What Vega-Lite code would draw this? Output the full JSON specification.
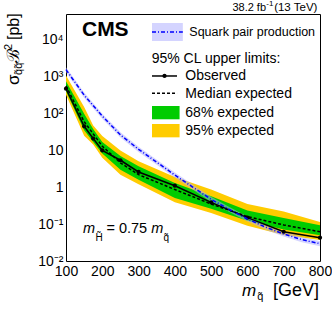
{
 "$schema": "https://vega.github.io/schema/vega-lite/v6.json",
 "width": 254, "height": 247,
 "autosize": {"type": "none"},
 "padding": {"left": 66, "top": 14, "right": 12, "bottom": 52},
 "background": "white",
 "config": {
   "view": {"stroke": "#000", "strokeWidth": 1},
   "font": "Liberation Sans",
   "axis": {"domain": false, "grid": false, "labelFont": "Liberation Sans", "labelFontSize": 14, "labelColor": "#000", "tickColor": "#000", "tickWidth": 1, "tickSize": 0, "labelOverlap": false, "labelFlush": false, "labelBound": false},
   "text": {"font": "Liberation Sans", "color": "#000"}
 },
 "datasets": {
   "limits": [
    {"mass":100,"obs":470,"exp":560,"g_lo":400,"g_hi":750,"y_lo":325,"y_hi":1080},
    {"mass":150,"obs":45,"exp":60,"g_lo":35,"g_hi":98,"y_lo":25,"y_hi":150},
    {"mass":175,"obs":21,"exp":28,"g_lo":17,"g_hi":38,"y_lo":14.5,"y_hi":47},
    {"mass":200,"obs":10,"exp":13,"g_lo":8.2,"g_hi":17,"y_lo":6.3,"y_hi":24.5},
    {"mass":250,"obs":5.4,"exp":4.6,"g_lo":3.0,"g_hi":7.0,"y_lo":2.2,"y_hi":10},
    {"mass":300,"obs":2.6,"exp":2.2,"g_lo":1.6,"g_hi":3.7,"y_lo":1.2,"y_hi":5.1},
    {"mass":400,"obs":1.1,"exp":0.87,"g_lo":0.51,"g_hi":1.3,"y_lo":0.39,"y_hi":1.9},
    {"mass":500,"obs":0.39,"exp":0.35,"g_lo":0.26,"g_hi":0.57,"y_lo":0.2,"y_hi":0.87},
    {"mass":600,"obs":0.15,"exp":0.16,"g_lo":0.124,"g_hi":0.235,"y_lo":0.09,"y_hi":0.35},
    {"mass":700,"obs":0.062,"exp":0.095,"g_lo":0.072,"g_hi":0.147,"y_lo":0.051,"y_hi":0.22},
    {"mass":800,"obs":0.043,"exp":0.062,"g_lo":0.05,"g_hi":0.093,"y_lo":0.037,"y_hi":0.115}
   ],
   "theory": [
    {"mass":100,"xs":1549,"lo":1317,"hi":1812},
    {"mass":150,"xs":316,"lo":269,"hi":370},
    {"mass":200,"xs":85,"lo":72,"hi":99},
    {"mass":250,"xs":26.3,"lo":22.4,"hi":30.8},
    {"mass":300,"xs":10.7,"lo":9.1,"hi":12.5},
    {"mass":350,"xs":4.8,"lo":4.1,"hi":5.6},
    {"mass":400,"xs":2.14,"lo":1.82,"hi":2.5},
    {"mass":450,"xs":1.0,"lo":0.85,"hi":1.17},
    {"mass":500,"xs":0.47,"lo":0.4,"hi":0.55},
    {"mass":550,"xs":0.25,"lo":0.213,"hi":0.293},
    {"mass":600,"xs":0.138,"lo":0.117,"hi":0.161},
    {"mass":650,"xs":0.083,"lo":0.0706,"hi":0.0971},
    {"mass":700,"xs":0.054,"lo":0.0459,"hi":0.0632},
    {"mass":750,"xs":0.038,"lo":0.0323,"hi":0.0445},
    {"mass":800,"xs":0.0295,"lo":0.0251,"hi":0.0345}
   ]
 },
 "layer": [
  {"data": {"name": "limits"}, "mark": {"type": "area", "color": "#ffcc00"},
   "encoding": {
     "x": {"field": "mass", "type": "quantitative", "scale": {"domain": [100, 800], "nice": false, "zero": false},
           "axis": {"title": null, "tickCount": 200, "values": [100,150,200,250,300,350,400,450,500,550,600,650,700,750,800], "labelExpr": "datum.value % 100 == 0 ? format(datum.value, 'd') : ''", "labelPadding": 3, "labelOverlap": false,
                    "encode": {"ticks": {"y2": {"value": {"expr": "datum.value % 100 == 0 ? -7 : -3.5"}}}}}},
     "y": {"field": "y_lo", "type": "quantitative", "scale": {"type": "log", "domain": [0.01, 50000], "nice": false},
           "axis": {"title": null, "tickCount": 200, "values": [0.01,0.02,0.03,0.04,0.05,0.06,0.07,0.08,0.09,0.1,0.2,0.3,0.4,0.5,0.6,0.7,0.8,0.9,1,2,3,4,5,6,7,8,9,10,20,30,40,50,60,70,80,90,100,200,300,400,500,600,700,800,900,1000,2000,3000,4000,5000,6000,7000,8000,9000,10000,20000,30000,40000,50000],
                    "labelExpr": "datum.value == 10000 ? '10⁴' : datum.value == 1000 ? '10³' : datum.value == 100 ? '10²' : datum.value == 10 ? '10' : datum.value == 1 ? '1' : datum.value == 0.1 ? '10⁻¹' : datum.value == 0.01 ? '10⁻²' : ''",
                    "labelPadding": 3, "labelOverlap": false,
                    "encode": {"ticks": {"x2": {"value": {"expr": "abs(log(datum.value)/LN10 - round(log(datum.value)/LN10)) < 0.001 ? 7 : 3.5"}}}}}},
     "y2": {"field": "y_hi"}
   }},
  {"data": {"name": "limits"}, "mark": {"type": "area", "color": "#00cc00"},
   "encoding": {"x": {"field": "mass", "type": "quantitative", "axis": {"title": null}}, "y": {"field": "g_lo", "type": "quantitative", "axis": {"title": null}}, "y2": {"field": "g_hi"}}},
  {"data": {"name": "theory"}, "mark": {"type": "area", "color": "#aaaaff", "opacity": 0.5},
   "encoding": {"x": {"field": "mass", "type": "quantitative", "axis": {"title": null}}, "y": {"field": "lo", "type": "quantitative", "axis": {"title": null}}, "y2": {"field": "hi"}}},
  {"data": {"name": "limits"}, "mark": {"type": "line", "color": "#000", "strokeWidth": 1.5, "strokeDash": [3, 2]},
   "encoding": {"x": {"field": "mass", "type": "quantitative", "axis": {"title": null}}, "y": {"field": "exp", "type": "quantitative", "axis": {"title": null}}}},
  {"data": {"name": "limits"}, "mark": {"type": "line", "color": "#000", "strokeWidth": 1.5, "point": {"filled": true, "size": 18, "color": "#000"}},
   "encoding": {"x": {"field": "mass", "type": "quantitative", "axis": {"title": null}}, "y": {"field": "obs", "type": "quantitative", "axis": {"title": null}}}},
  {"data": {"name": "theory"}, "mark": {"type": "line", "color": "#0000ff", "strokeWidth": 1.5, "strokeDash": [4, 2, 1, 2]},
   "encoding": {"x": {"field": "mass", "type": "quantitative", "axis": {"title": null}}, "y": {"field": "xs", "type": "quantitative", "axis": {"title": null}}}},

  {"data": {"values": [{}]}, "mark": {"type": "rect", "color": "#aaaaff", "opacity": 0.5},
   "encoding": {"x": {"datum": 337}, "x2": {"datum": 422}, "y": {"datum": 9270}, "y2": {"datum": 28500}}},
  {"data": {"values": [{}]}, "mark": {"type": "rule", "color": "#0000ff", "strokeWidth": 1.5, "strokeDash": [4, 2, 1, 2]},
   "encoding": {"x": {"datum": 337}, "x2": {"datum": 422}, "y": {"datum": 16260}}},
  {"data": {"values": [{}]}, "mark": {"type": "rule", "color": "#000", "strokeWidth": 1.5},
   "encoding": {"x": {"datum": 337}, "x2": {"datum": 406}, "y": {"datum": 1042}}},
  {"data": {"values": [{}]}, "mark": {"type": "point", "filled": true, "size": 18, "color": "#000", "opacity": 1},
   "encoding": {"x": {"datum": 371.5}, "y": {"datum": 1042}}},
  {"data": {"values": [{}]}, "mark": {"type": "rule", "color": "#000", "strokeWidth": 1.5, "strokeDash": [3, 2]},
   "encoding": {"x": {"datum": 337}, "x2": {"datum": 406}, "y": {"datum": 353}}},
  {"data": {"values": [{}]}, "mark": {"type": "rect", "color": "#00cc00"},
   "encoding": {"x": {"datum": 337}, "x2": {"datum": 413}, "y": {"datum": 69.7}, "y2": {"datum": 160}}},
  {"data": {"values": [{}]}, "mark": {"type": "rect", "color": "#ffcc00"},
   "encoding": {"x": {"datum": 337}, "x2": {"datum": 413}, "y": {"datum": 22.6}, "y2": {"datum": 52}}},

  {"data": {"values": [{}]}, "mark": {"type": "text", "text": "CMS", "fontSize": 21, "fontWeight": "bold", "align": "left", "baseline": "alphabetic"},
   "encoding": {"x": {"datum": 144}, "y": {"datum": 12650}}},
  {"data": {"values": [{}]}, "mark": {"type": "text", "text": "Squark pair production", "fontSize": 12.5, "align": "left", "baseline": "alphabetic"},
   "encoding": {"x": {"datum": 439.8}, "y": {"datum": 12650}}},
  {"data": {"values": [{}]}, "mark": {"type": "text", "text": "95% CL upper limits:", "fontSize": 14, "align": "left", "baseline": "alphabetic"},
   "encoding": {"x": {"datum": 336.2}, "y": {"datum": 2301}}},
  {"data": {"values": [{}]}, "mark": {"type": "text", "text": "Observed", "fontSize": 14, "align": "left", "baseline": "alphabetic"},
   "encoding": {"x": {"datum": 428.8}, "y": {"datum": 811}}},
  {"data": {"values": [{}]}, "mark": {"type": "text", "text": "Median expected", "fontSize": 14, "align": "left", "baseline": "alphabetic"},
   "encoding": {"x": {"datum": 428.8}, "y": {"datum": 258.8}}},
  {"data": {"values": [{}]}, "mark": {"type": "text", "text": "68% expected", "fontSize": 14, "align": "left", "baseline": "alphabetic"},
   "encoding": {"x": {"datum": 428.8}, "y": {"datum": 82}}},
  {"data": {"values": [{}]}, "mark": {"type": "text", "text": "95% expected", "fontSize": 14, "align": "left", "baseline": "alphabetic"},
   "encoding": {"x": {"datum": 428.8}, "y": {"datum": 26.7}}},

  {"data": {"values": [{}]}, "mark": {"type": "text", "text": "38.2 fb", "fontSize": 11, "align": "right", "baseline": "alphabetic"},
   "encoding": {"x": {"datum": 651.3}, "y": {"datum": 59200}}},
  {"data": {"values": [{}]}, "mark": {"type": "text", "text": "-1", "fontSize": 8, "align": "left", "baseline": "alphabetic"},
   "encoding": {"x": {"datum": 652}, "y": {"datum": 80000}}},
  {"data": {"values": [{}]}, "mark": {"type": "text", "text": "(13 TeV)", "fontSize": 11.5, "align": "left", "baseline": "alphabetic"},
   "encoding": {"x": {"datum": 673.6}, "y": {"datum": 59200}}},

  {"data": {"values": [{}]}, "mark": {"type": "text", "text": "m", "fontSize": 14.5, "fontStyle": "italic", "align": "left", "baseline": "alphabetic"},
   "encoding": {"x": {"datum": 146.8}, "y": {"datum": 0.0564}}},
  {"data": {"values": [{}]}, "mark": {"type": "text", "text": "H̃", "fontSize": 10, "align": "left", "baseline": "alphabetic"},
   "encoding": {"x": {"datum": 181}, "y": {"datum": 0.0356}}},
  {"data": {"values": [{}]}, "mark": {"type": "text", "text": "= 0.75", "fontSize": 14.5, "align": "left", "baseline": "alphabetic"},
   "encoding": {"x": {"datum": 211.3}, "y": {"datum": 0.0564}}},
  {"data": {"values": [{}]}, "mark": {"type": "text", "text": "m", "fontSize": 14.5, "fontStyle": "italic", "align": "left", "baseline": "alphabetic"},
   "encoding": {"x": {"datum": 334.8}, "y": {"datum": 0.0564}}},
  {"data": {"values": [{}]}, "mark": {"type": "text", "text": "q̃", "fontSize": 10, "align": "left", "baseline": "alphabetic"},
   "encoding": {"x": {"datum": 369}, "y": {"datum": 0.0356}}},

  {"data": {"values": [{}]}, "mark": {"type": "text", "text": "m", "fontSize": 17, "fontStyle": "italic", "align": "left", "baseline": "alphabetic"},
   "encoding": {"x": {"datum": 585}, "y": {"datum": 0.001125}}},
  {"data": {"values": [{}]}, "mark": {"type": "text", "text": "q̃", "fontSize": 11, "align": "left", "baseline": "alphabetic"},
   "encoding": {"x": {"datum": 627}, "y": {"datum": 0.000875}}},
  {"data": {"values": [{}]}, "mark": {"type": "text", "text": "[GeV]", "fontSize": 18, "align": "right", "baseline": "alphabetic"},
   "encoding": {"x": {"datum": 797.2}, "y": {"datum": 0.001125}}},

  {"data": {"values": [{}]}, "mark": {"type": "text", "text": "σ", "fontSize": 17, "angle": 270, "align": "left", "baseline": "alphabetic"},
   "encoding": {"x": {"datum": -29.5}, "y": {"datum": 594}}},
  {"data": {"values": [{}]}, "mark": {"type": "text", "text": "q̃q̃", "fontSize": 11, "angle": 270, "align": "left", "baseline": "alphabetic"},
   "encoding": {"x": {"datum": -21.3}, "y": {"datum": 1109}}},
  {"data": {"values": [{}]}, "mark": {"type": "text", "text": "ℬ", "fontSize": 17, "angle": 270, "align": "left", "baseline": "alphabetic"},
   "encoding": {"x": {"datum": -29.5}, "y": {"datum": 2377}}},
  {"data": {"values": [{}]}, "mark": {"type": "text", "text": "2", "fontSize": 11, "angle": 270, "align": "left", "baseline": "alphabetic"},
   "encoding": {"x": {"datum": -48.8}, "y": {"datum": 5285}}},
  {"data": {"values": [{}]}, "mark": {"type": "text", "text": "[pb]", "fontSize": 16, "angle": 270, "align": "left", "baseline": "alphabetic"},
   "encoding": {"x": {"datum": -29.5}, "y": {"datum": 9863}}}
 ]
}
